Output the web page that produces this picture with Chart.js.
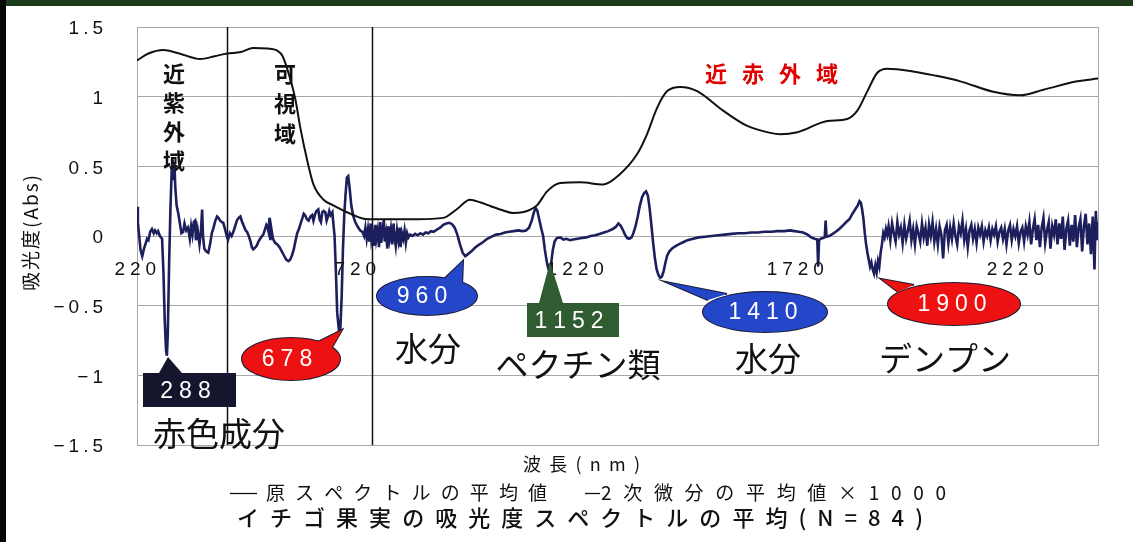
<!DOCTYPE html>
<html>
<head>
<meta charset="utf-8">
<script src="https://cdn.jsdelivr.net/npm/chart.js@4.4.1/dist/chart.umd.min.js"></script>
<style>
  html, body { margin: 0; padding: 0; background: #fff; }
  #wrap { width: 1133px; height: 542px; }
</style>
</head>
<body>
<div id="wrap"><canvas id="spec" width="1133" height="542"></canvas></div>
<script>
// 原スペクトルの平均値 (波長 nm / 吸光度)
const specWl = [224, 250, 284, 320, 368, 400, 429, 460, 488, 520, 543, 555, 572, 584, 595, 611, 625, 648, 670, 709,
  747, 800, 860, 920, 950, 981, 1005, 1027, 1055, 1079, 1100, 1118, 1133, 1156, 1186, 1231, 1284, 1322, 1361, 1383,
  1406, 1429, 1459, 1497, 1556, 1611, 1663, 1686, 1725, 1793, 1838, 1861, 1884, 1906, 1929, 1981, 2040, 2095, 2170,
  2231, 2284, 2361, 2408];
const specAbs = [1.26, 1.31, 1.335, 1.31, 1.27, 1.29, 1.31, 1.32, 1.35, 1.345, 1.33, 1.29, 1.13, 0.98, 0.78, 0.54, 0.37, 0.26, 0.22, 0.16,
  0.12, 0.12, 0.12, 0.13, 0.19, 0.26, 0.24, 0.215, 0.185, 0.165, 0.17, 0.19, 0.22, 0.32, 0.38, 0.385, 0.37, 0.445, 0.59, 0.73,
  0.92, 1.04, 1.07, 1.04, 0.90, 0.79, 0.74, 0.73, 0.745, 0.825, 0.84, 0.90, 1.04, 1.17, 1.20, 1.185, 1.15, 1.11, 1.035,
  1.01, 1.05, 1.11, 1.13];

// 2次微分の平均値 x 1000
const derivWl = [224, 226, 229, 232, 236, 240, 243, 247, 250, 254, 258, 262, 265, 269, 272, 276, 281, 284, 287, 290,
  292, 294, 297, 300, 303, 305, 307, 309, 311, 314, 318, 322, 325, 329, 332, 336, 340, 344, 347, 350,
  353, 356, 358, 362, 366, 369, 372, 374, 377, 381, 386, 390, 394, 398, 402, 406, 409, 413, 417, 420,
  424, 428, 431, 435, 439, 443, 447, 451, 455, 459, 463, 467, 471, 474, 478, 482, 485, 488, 492, 496,
  500, 504, 508, 511, 515, 518, 520, 523, 525, 527, 529, 533, 538, 543, 548, 553, 558, 563, 568, 572,
  576, 580, 584, 588, 592, 596, 600, 603, 606, 610, 614, 618, 622, 625, 629, 632, 636, 639, 642, 645,
  648, 652, 655, 658, 661, 664, 668, 670, 673, 676, 679, 683, 686, 689, 692, 695, 698, 701, 704, 707,
  711, 715, 720, 725, 731, 736, 740, 743, 746,
  749, 752, 755, 757, 760, 763, 766, 768, 771, 774, 777, 779, 782, 785, 787, 790, 793, 795, 798, 801,
  804, 807, 809, 812, 815, 818, 821, 823, 826, 829, 832, 835, 838, 841, 845,
  850, 856, 862, 868, 874, 880, 886, 892, 898, 905, 913, 920, 927, 934, 940, 946, 952, 958, 964, 970,
  976, 984, 992, 1000, 1010, 1020, 1030, 1040, 1050, 1060, 1070, 1080, 1090, 1100, 1108, 1115, 1121, 1126, 1130, 1134,
  1138, 1143, 1147, 1151, 1155, 1159, 1162, 1165, 1169, 1173, 1178, 1186, 1193, 1200, 1208, 1215, 1225, 1235, 1245, 1255,
  1265, 1275, 1285, 1295, 1305, 1312, 1318, 1323, 1328, 1333, 1338, 1343, 1348, 1352, 1357, 1362, 1367, 1372, 1377, 1381,
  1385, 1389, 1393, 1397, 1401, 1405, 1409, 1413, 1417, 1421, 1425, 1429, 1434, 1440, 1447, 1455, 1465, 1475, 1488, 1500,
  1515, 1530, 1545, 1560, 1575, 1590, 1605, 1620, 1635, 1650, 1665, 1680, 1695, 1708, 1718, 1728, 1738, 1748, 1756, 1764,
  1770, 1772, 1774, 1778, 1783, 1787, 1789, 1791, 1797, 1805, 1812, 1820, 1828, 1836, 1843, 1850, 1856, 1862, 1866, 1869,
  1872, 1875, 1878, 1881, 1884, 1887, 1890, 1893, 1896, 1899, 1902, 1905, 1908, 1911, 1914, 1917, 1920, 1923, 1926, 1929,
  1932, 1936, 1940, 1944, 1948, 1952, 1956, 1960, 1964, 1968, 1972, 1976, 1980, 1984, 1988, 1992, 1996, 2000, 2004, 2008,
  2012, 2016, 2020, 2024, 2028, 2032, 2036, 2040, 2044, 2048, 2052, 2056, 2060, 2064, 2068, 2072, 2076, 2080, 2084, 2088,
  2092, 2096, 2100, 2104, 2108, 2112, 2116, 2120, 2124, 2128, 2132, 2136, 2140, 2144, 2148, 2152, 2156, 2160, 2164, 2168,
  2172, 2176, 2180, 2184, 2188, 2192, 2196, 2200, 2204, 2208, 2212, 2216, 2220, 2224, 2228, 2232, 2236, 2240, 2244, 2248,
  2252, 2256, 2260, 2264, 2268, 2272, 2276, 2280, 2284, 2288, 2292, 2296, 2300, 2304, 2308, 2312, 2316, 2320, 2324, 2328,
  2332, 2336, 2340, 2344, 2348, 2352, 2356, 2360, 2364, 2368, 2372, 2376, 2380, 2384, 2388, 2392, 2396, 2400, 2403, 2406, 2408];
const derivVal = [0.21, 0.10, 0.0, -0.10, -0.145, -0.09, -0.06, -0.02, -0.03, 0.03, 0.05, 0.02, 0.04, 0.02, 0.035, 0.0, -0.02, -0.25, -0.60, -0.82,
  -0.86, -0.70, -0.20, 0.20, 0.48, 0.55, 0.40, 0.53, 0.35, 0.22, 0.16, 0.08, 0.02, 0.03, 0.09, 0.04, 0.06, -0.02, 0.07, 0.01,
  0.10, 0.11, -0.03, 0.04, -0.06, 0.02, 0.19, 0.0, -0.09, -0.11, -0.12, -0.06, 0.02, 0.06, 0.11, 0.14, 0.13, 0.11, 0.10, 0.095,
  0.05, 0.0, -0.025, 0.02, 0.0, 0.03, 0.07, 0.11, 0.13, 0.14, 0.10, 0.07, 0.04, 0.03, 0.0, -0.04, -0.08, -0.095, -0.085, -0.07,
  -0.04, -0.02, 0.0, 0.01, 0.05, 0.08, 0.07, 0.03, 0.13, -0.03, 0.06, -0.02, -0.05, -0.06, -0.08, -0.11, -0.14, -0.17, -0.18, -0.17,
  -0.14, -0.10, -0.04, 0.02, 0.05, 0.09, 0.13, 0.16, 0.15, 0.12, 0.11, 0.14, 0.15, 0.11, 0.16, 0.18, 0.19, 0.12, 0.10, 0.17,
  0.18, 0.17, 0.11, 0.14, 0.18, 0.15, 0.17, 0.10, 0.0, -0.25, -0.55, -0.68, -0.67, -0.45, -0.10, 0.15, 0.30, 0.42, 0.43, 0.35,
  0.22, 0.15, 0.10, 0.07, 0.04, 0.03, 0.0, 0.06, -0.02,
  0.05, -0.04, 0.09, -0.03, 0.02, -0.07, 0.08, -0.02, 0.04, -0.08, 0.10, -0.05, 0.03, 0.12, -0.04, 0.02, -0.09, 0.07, -0.02, 0.05,
  -0.06, 0.09, 0.0, -0.07, 0.04, -0.03, 0.06, -0.08, 0.02, -0.02, 0.04, -0.05, 0.02, -0.01, 0.01,
  0.0, 0.015, 0.005, 0.02, 0.01, 0.025, 0.02, 0.035, 0.03, 0.045, 0.06, 0.08, 0.09, 0.095, 0.085, 0.06, 0.01, -0.06, -0.12, -0.145,
  -0.13, -0.11, -0.085, -0.065, -0.045, -0.02, -0.005, 0.01, 0.015, 0.025, 0.03, 0.035, 0.04, 0.035, 0.04, 0.06, 0.11, 0.17, 0.20, 0.18,
  0.12, 0.05, 0.0, -0.10, -0.18, -0.24, -0.25, -0.20, -0.10, -0.04, -0.015, -0.01, -0.025, -0.02, -0.03, -0.025, -0.02, -0.015, -0.01, 0.0,
  0.005, 0.015, 0.025, 0.035, 0.05, 0.065, 0.09, 0.075, 0.045, 0.01, -0.015, -0.02, -0.01, 0.02, 0.07, 0.14, 0.22, 0.28, 0.31, 0.32,
  0.29, 0.20, 0.08, -0.05, -0.16, -0.24, -0.28, -0.30, -0.29, -0.25, -0.19, -0.14, -0.11, -0.09, -0.075, -0.06, -0.045, -0.03, -0.02, -0.01,
  -0.005, 0.0, 0.005, 0.01, 0.015, 0.02, 0.02, 0.025, 0.025, 0.03, 0.03, 0.035, 0.035, 0.04, 0.035, 0.03, 0.025, 0.01, -0.01, -0.02,
  -0.025, -0.22, -0.03, -0.02, -0.015, -0.01, 0.11, -0.005, 0.0, 0.015, 0.03, 0.05, 0.075, 0.10, 0.12, 0.16, 0.19, 0.22, 0.25, 0.24,
  0.19, 0.12, 0.02, -0.06, -0.12, -0.17, -0.22, -0.19, -0.24, -0.27, -0.21, -0.26, -0.18, -0.22, -0.12, -0.06, 0.02, -0.01, 0.05, 0.01,
  0.07, -0.03, 0.09, 0.02, -0.04, 0.10, 0.01, 0.06, -0.05, 0.08, -0.02, 0.04, 0.11, -0.03, 0.05, -0.06, 0.07, 0.02, -0.04, 0.09,
  -0.01, 0.06, -0.07, 0.08, 0.0, 0.10, -0.04, 0.05, -0.06, 0.07, 0.01, -0.16, 0.04, 0.08, -0.05, 0.06, -0.02, 0.09, 0.0, -0.06,
  0.07, 0.02, 0.11, -0.03, 0.05, -0.08, 0.04, 0.08, -0.02, 0.05, -0.05, 0.06, 0.01, 0.07, -0.04, 0.04, 0.0, 0.06, -0.03, 0.05,
  0.01, 0.07, -0.04, 0.03, 0.06, -0.02, 0.05, -0.06, 0.04, 0.08, -0.03, 0.05, 0.0, 0.07, -0.05, 0.03, 0.06, -0.04, 0.07, 0.01,
  0.10, -0.06, 0.05, 0.12, -0.03, 0.08, -0.08, 0.06, 0.13, -0.05, 0.04, 0.10, -0.09, 0.07, 0.01, 0.12, -0.06, 0.09, -0.02, 0.14,
  -0.10, 0.05, 0.11, -0.07, 0.08, -0.04, 0.15, -0.08, 0.06, 0.12, -0.11, 0.07, 0.16, -0.06, 0.09, -0.13, 0.14, -0.24, 0.18, -0.03, 0.10];

// 目盛りと境界
const tickWl = [220, 720, 1220, 1720, 2220];
const regionWl = [429, 759];

const jpFont = '"Noto Sans CJK JP", sans-serif';
const numFont = '"Liberation Sans", Arial, sans-serif';

function toPoints(xs, ys) {
  return xs.map((x, i) => ({ x: x, y: ys[i] }));
}

// 文字間隔をあけて描く
function spaced(ctx, str, x, y, gap, align) {
  const chars = Array.from(str);
  const widths = chars.map(c => ctx.measureText(c).width);
  const total = widths.reduce((a, b) => a + b, 0) + gap * (chars.length - 1);
  let cx = align === 'center' ? x - total / 2 : (align === 'right' ? x - total : x);
  ctx.textAlign = 'left';
  chars.forEach((c, i) => { ctx.fillText(c, cx, y); cx += widths[i] + gap; });
}

// x0〜x1 の幅に均等に並べる
function spanText(ctx, str, x0, x1, y) {
  const chars = Array.from(str);
  const widths = chars.map(c => ctx.measureText(c).width);
  const sum = widths.reduce((a, b) => a + b, 0);
  const gap = chars.length > 1 ? (x1 - x0 - sum) / (chars.length - 1) : 0;
  spaced(ctx, str, x0, y, gap, 'left');
}

function bubble(ctx, cx, cy, rx, ry, tail, color, label, lx) {
  ctx.save();
  ctx.lineWidth = 2;
  ctx.strokeStyle = '#1a1a30';
  ctx.fillStyle = color;
  ctx.beginPath();
  ctx.ellipse(cx, cy, rx, ry, 0, 0, Math.PI * 2);
  ctx.stroke();
  ctx.beginPath();
  ctx.moveTo(tail[0][0], tail[0][1]);
  ctx.lineTo(tail[1][0], tail[1][1]);
  ctx.lineTo(tail[2][0], tail[2][1]);
  ctx.stroke();
  ctx.fill();
  ctx.beginPath();
  ctx.ellipse(cx, cy, rx, ry, 0, 0, Math.PI * 2);
  ctx.fill();
  ctx.fillStyle = '#fff';
  ctx.font = '23px ' + numFont;
  ctx.textBaseline = 'middle';
  spaced(ctx, label, lx, cy + 1, 6, 'center');
  ctx.restore();
}

function tagBox(ctx, x0, y0, x1, y1, tail, color, label) {
  ctx.save();
  ctx.fillStyle = color;
  ctx.beginPath();
  ctx.moveTo(x0, y0);
  ctx.lineTo(tail[0], y0);
  ctx.lineTo(tail[1], tail[2]);
  ctx.lineTo(tail[3], y0);
  ctx.lineTo(x1, y0);
  ctx.lineTo(x1, y1);
  ctx.lineTo(x0, y1);
  ctx.closePath();
  ctx.fill();
  ctx.fillStyle = '#fff';
  ctx.font = '23px ' + numFont;
  ctx.textBaseline = 'middle';
  spaced(ctx, label, (x0 + x1) / 2 - 4, (y0 + y1) / 2 + 2, 6, 'center');
  ctx.restore();
}

function dash(ctx, x0, x1, y) {
  ctx.save();
  ctx.strokeStyle = '#111';
  ctx.lineWidth = 1.3;
  ctx.beginPath();
  ctx.moveTo(x0, y + 0.5);
  ctx.lineTo(x1, y + 0.5);
  ctx.stroke();
  ctx.restore();
}

const decor = {
  id: 'decor',
  beforeDraw(chart) {
    const ctx = chart.ctx;
    ctx.save();
    ctx.fillStyle = '#fff';
    ctx.fillRect(0, 0, chart.width, chart.height);
    ctx.fillStyle = '#1d3a1b';
    ctx.fillRect(0, 0, chart.width, 6);
    ctx.fillStyle = '#050505';
    ctx.fillRect(0, 0, 6, chart.height);
    ctx.restore();
  },
  beforeDatasetsDraw(chart) {
    const ctx = chart.ctx;
    const a = chart.chartArea;
    const xs = chart.scales.x;
    ctx.save();
    ctx.strokeStyle = '#a8a8a8';
    ctx.lineWidth = 1;
    ctx.strokeRect(a.left + 0.5, a.top + 0.5, a.right - a.left, a.bottom - a.top);
    ctx.strokeStyle = '#111';
    ctx.lineWidth = 1.5;
    regionWl.forEach(w => {
      const px = Math.round(xs.getPixelForValue(w)) + 0.5;
      ctx.beginPath();
      ctx.moveTo(px, a.top);
      ctx.lineTo(px, a.bottom);
      ctx.stroke();
    });
    ctx.restore();
  },
  afterDatasetsDraw(chart) {
    const ctx = chart.ctx;
    const xs = chart.scales.x;
    const ys = chart.scales.y;
    ctx.save();
    ctx.fillStyle = '#111';
    ctx.textBaseline = 'middle';

    // y 目盛り
    ctx.font = '19px ' + numFont;
    ys.ticks.forEach(t => {
      spaced(ctx, String(t.value).replace('-', '\u2212'), 103, ys.getPixelForValue(t.value) + 2, 4, 'right');
    });
    // x 目盛り (0 の線の下)
    tickWl.forEach(w => {
      spaced(ctx, String(w), xs.getPixelForValue(w), ys.getPixelForValue(0) + 34, 5, 'center');
    });

    // y 軸タイトル
    ctx.save();
    ctx.translate(31, 233);
    ctx.rotate(-Math.PI / 2);
    ctx.font = '19px ' + jpFont;
    spanText(ctx, '吸光度(Abs)', -58, 58, 0);
    ctx.restore();

    // 領域名
    ctx.font = 'bold 22px ' + jpFont;
    ctx.textAlign = 'center';
    ['近', '紫', '外', '域'].forEach((c, i) => ctx.fillText(c, 174, 74 + i * 29));
    ['可', '視', '域'].forEach((c, i) => ctx.fillText(c, 285, 74 + i * 30));
    ctx.fillStyle = '#e00000';
    spanText(ctx, '近赤外域', 705, 838, 74);

    // 吹き出し
    tagBox(ctx, 143, 373, 236, 407, [159, 168, 357, 182], '#15152e', '288');
    bubble(ctx, 291, 359, 49, 21, [[318, 342], [342, 330], [331, 349]], '#ee1111', '678', 287);
    bubble(ctx, 427, 296, 50, 19, [[443, 280], [463, 261], [462, 287]], '#2446c8', '960', 422);
    tagBox(ctx, 527, 303, 619, 337, [539, 550, 262, 563], '#2f5c31', '1152');
    bubble(ctx, 765, 312, 62, 20, [[727, 294], [666, 282], [708, 300]], '#2446c8', '1410', 763);
    bubble(ctx, 954, 304, 66, 21, [[914, 285], [881, 279], [898, 292]], '#ee1111', '1900', 952);

    // 成分名
    ctx.fillStyle = '#111';
    ctx.font = '33px ' + jpFont;
    ctx.textBaseline = 'middle';
    ctx.textAlign = 'center';
    ctx.fillText('赤色成分', 219, 433);
    ctx.fillText('水分', 428, 348);
    ctx.fillText('ペクチン類', 578, 364);
    ctx.fillText('水分', 768, 358);
    ctx.fillText('デンプン', 945, 358);

    // 軸タイトル・凡例・表題
    ctx.font = '18px ' + jpFont;
    spanText(ctx, '波長(nm)', 523, 640, 464);
    ctx.font = '19px ' + jpFont;
    dash(ctx, 230, 257, 493);
    spanText(ctx, '原スペクトルの平均値', 266, 547, 493);
    dash(ctx, 585, 600, 493);
    spanText(ctx, '2次微分の平均値×1000', 601, 946, 493);
    ctx.font = '500 22px ' + jpFont;
    spanText(ctx, 'イチゴ果実の吸光度スペクトルの平均(N=84)', 237, 923, 518);
    ctx.restore();
  }
};

const chart = new Chart(document.getElementById('spec'), {
  type: 'line',
  data: {
    datasets: [
      {
        label: '原スペクトルの平均値',
        data: toPoints(specWl, specAbs),
        borderColor: '#111',
        borderWidth: 2,
        pointRadius: 0,
        cubicInterpolationMode: 'monotone',
        order: 1
      },
      {
        label: '2次微分の平均値×1000',
        data: toPoints(derivWl, derivVal),
        borderColor: '#1c1f5c',
        borderWidth: 2.6,
        pointRadius: 0,
        tension: 0,
        order: 2
      }
    ]
  },
  options: {
    responsive: false,
    animation: false,
    layout: { padding: { left: 137, top: 27, right: 35, bottom: 97 } },
    scales: {
      x: { type: 'linear', min: 224, max: 2408, display: false },
      y: {
        min: -1.5,
        max: 1.5,
        ticks: { stepSize: 0.5, display: false },
        grid: { color: '#a8a8a8', lineWidth: 1, drawTicks: false },
        border: { display: false },
        afterFit(s) { s.width = 0; }
      }
    },
    plugins: {
      legend: { display: false },
      tooltip: { enabled: false }
    }
  },
  plugins: [decor]
});
</script>
</body>
</html>
